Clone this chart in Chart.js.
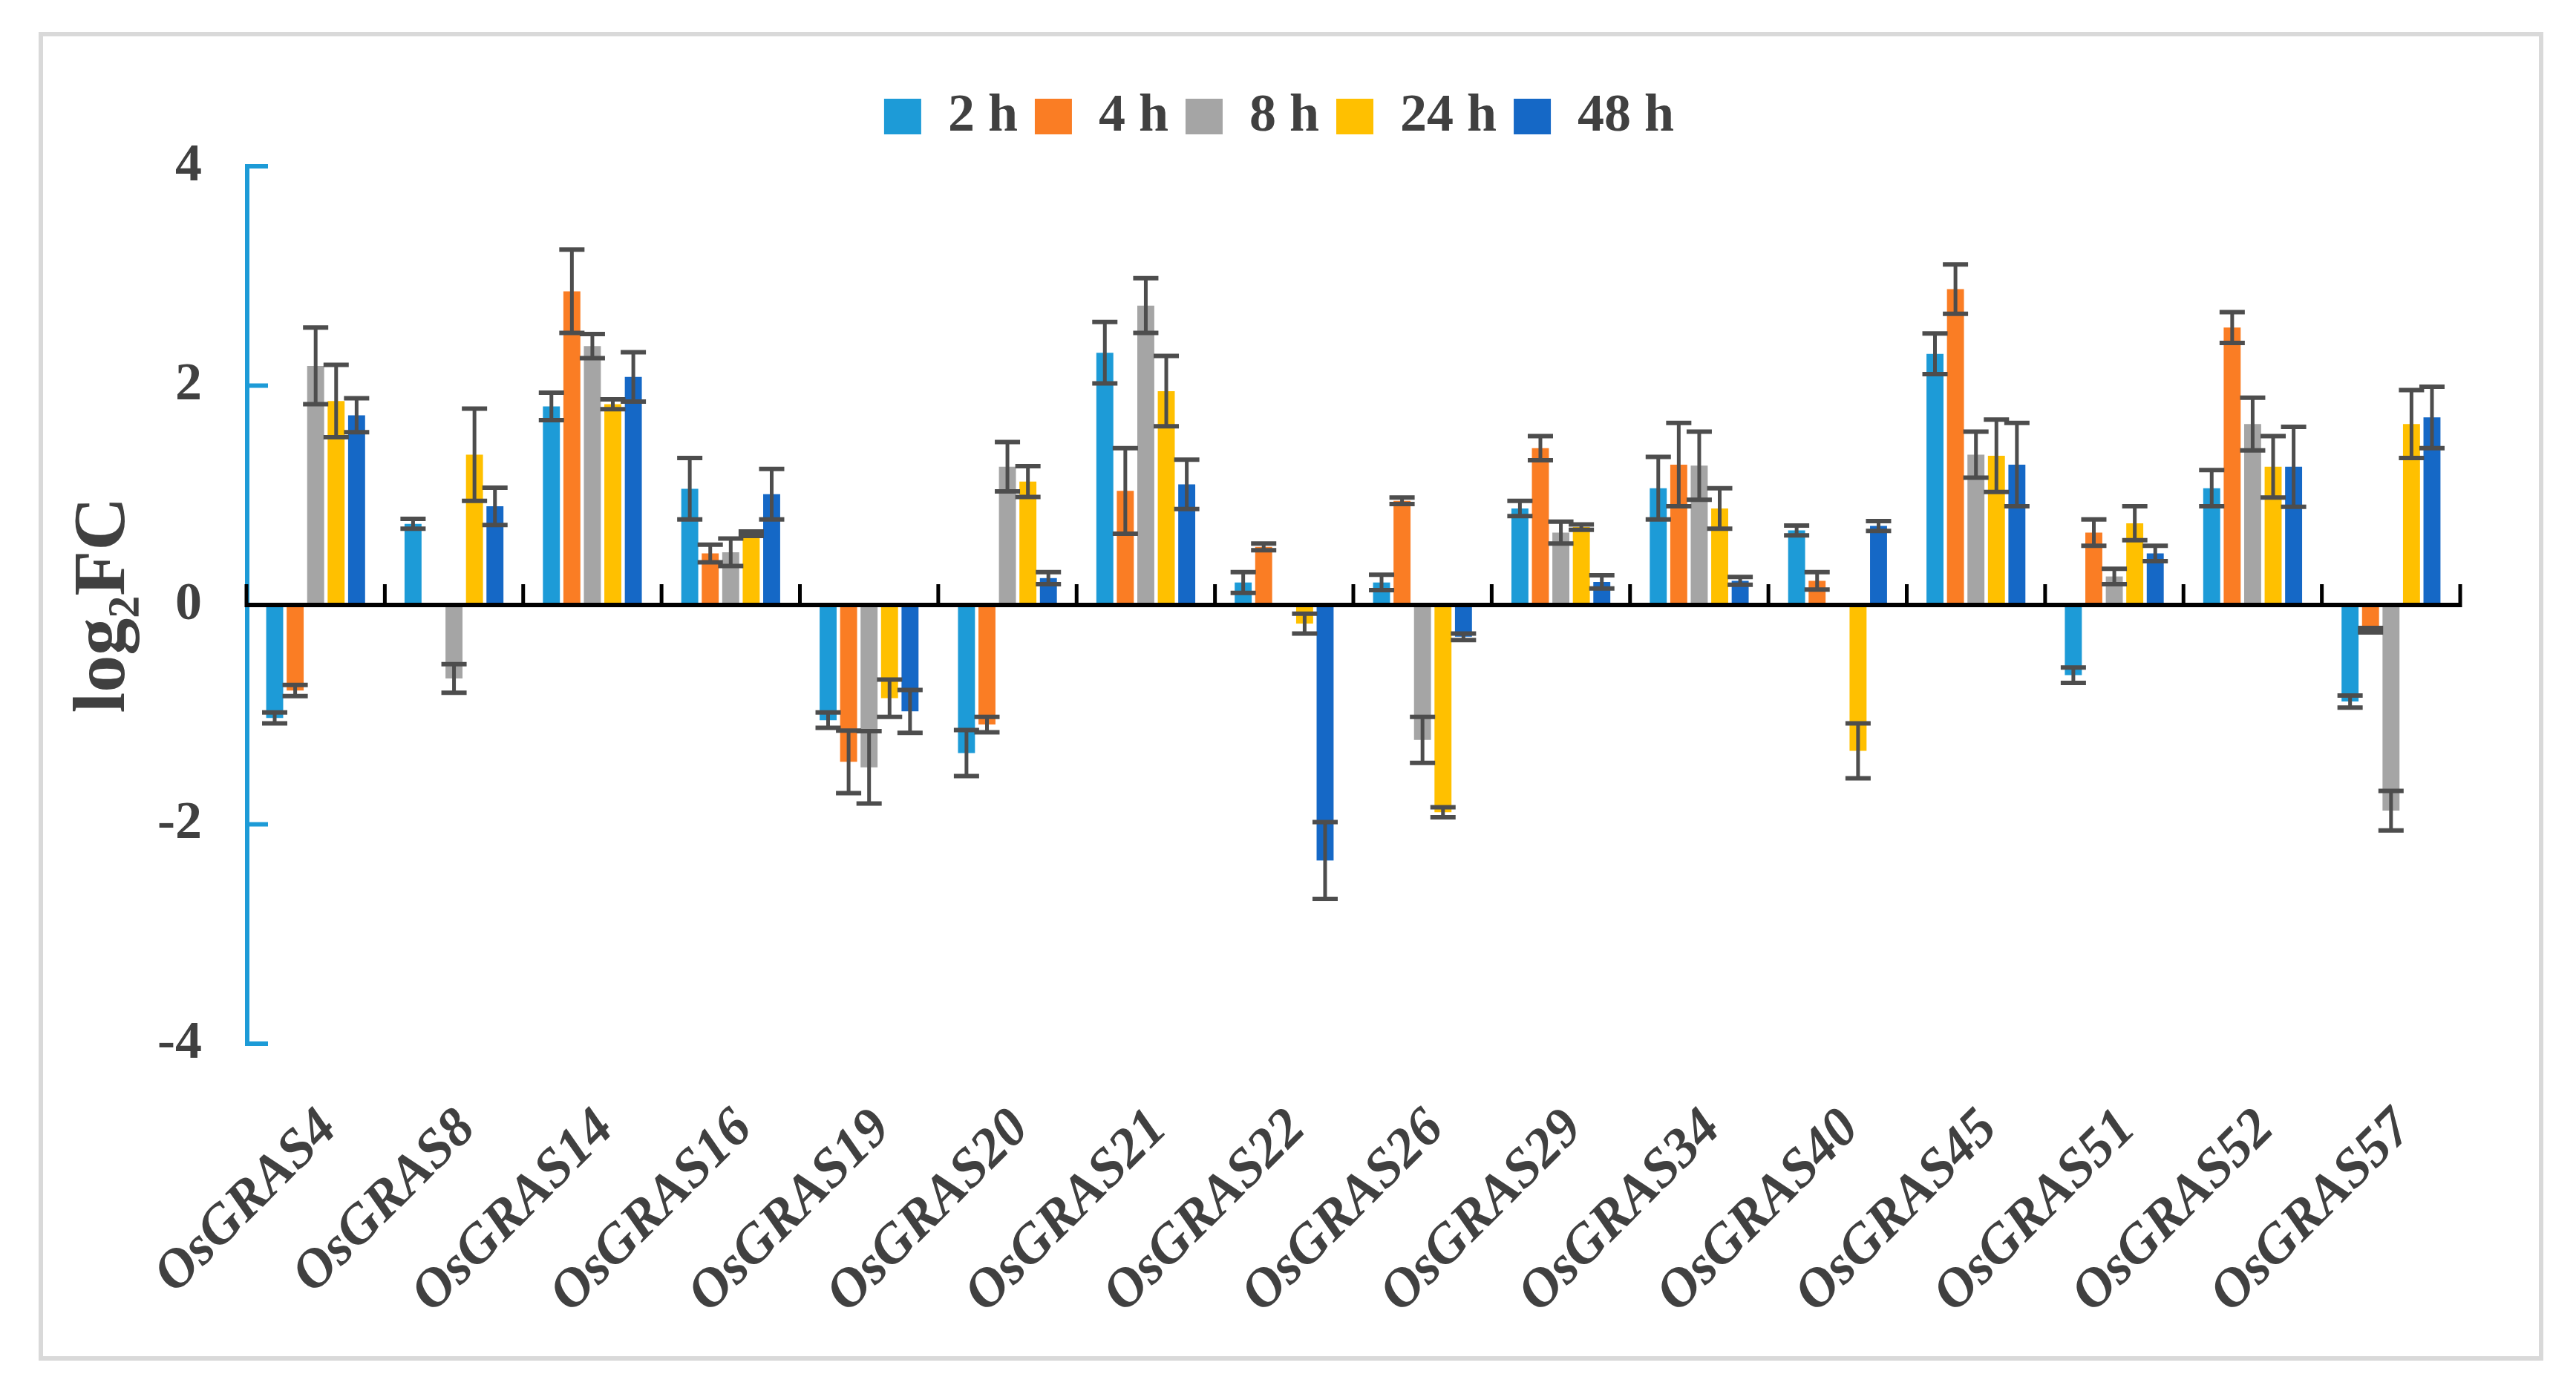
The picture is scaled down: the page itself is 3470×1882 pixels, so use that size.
<!DOCTYPE html>
<html>
<head>
<meta charset="utf-8">
<script src="https://cdn.jsdelivr.net/npm/chart.js@4.4.1/dist/chart.umd.min.js"></script>
<style>
  html, body { margin: 0; padding: 0; background: #ffffff; }
  #wrap { position: relative; width: 3470px; height: 1882px; overflow: hidden; }
  #frame { position: absolute; left: 52px; top: 43px; width: 3374px; height: 1790px;
           box-sizing: border-box; border: 6px solid #d9d9d9; }
  #c { position: absolute; left: 0; top: 0; }
</style>
</head>
<body>
<div id="wrap">
  <div id="frame"></div>
  <canvas id="c" width="3470" height="1882"></canvas>
</div>
<script>
// ---------------- DATA ----------------
const categories = ['OsGRAS4','OsGRAS8','OsGRAS14','OsGRAS16','OsGRAS19','OsGRAS20','OsGRAS21','OsGRAS22',
                    'OsGRAS26','OsGRAS29','OsGRAS34','OsGRAS40','OsGRAS45','OsGRAS51','OsGRAS52','OsGRAS57'];
const seriesNames = ['2 h', '4 h', '8 h', '24 h', '48 h'];

const val2h  = [-1.03, 0.74, 1.81, 1.06, -1.05, -1.35, 2.30, 0.205, 0.205, 0.88, 1.065, 0.68, 2.29, -0.64, 1.065, -0.88];
const err2h  = [0.05, 0.045, 0.125, 0.28, 0.07, 0.21, 0.28, 0.095, 0.07, 0.07, 0.285, 0.045, 0.185, 0.07, 0.165, 0.055];

const val4h  = [-0.78, 0, 2.86, 0.47, -1.43, -1.09, 1.04, 0.53, 0.95, 1.43, 1.28, 0.22, 2.88, 0.66, 2.53, -0.23];
const err4h  = [0.05, 0, 0.38, 0.08, 0.285, 0.07, 0.39, 0.03, 0.03, 0.11, 0.38, 0.08, 0.225, 0.12, 0.14, 0.02];

const val8h  = [2.18, -0.67, 2.36, 0.48, -1.48, 1.26, 2.73, 0, -1.23, 0.66, 1.27, 0, 1.37, 0.26, 1.65, -1.875];
const err8h  = [0.35, 0.13, 0.11, 0.125, 0.33, 0.225, 0.25, 0, 0.21, 0.10, 0.31, 0, 0.21, 0.07, 0.24, 0.18];

const val24h = [1.86, 1.37, 1.83, 0.65, -0.85, 1.125, 1.95, -0.17, -1.89, 0.71, 0.88, -1.33, 1.36, 0.745, 1.26, 1.65];
const err24h = [0.33, 0.42, 0.045, 0.02, 0.17, 0.14, 0.32, 0.09, 0.045, 0.025, 0.185, 0.25, 0.33, 0.155, 0.28, 0.31];

const val48h = [1.73, 0.90, 2.08, 1.01, -0.97, 0.245, 1.10, -2.33, -0.29, 0.21, 0.22, 0.72, 1.28, 0.47, 1.26, 1.71];
const err48h = [0.155, 0.17, 0.225, 0.23, 0.195, 0.055, 0.225, 0.35, 0.03, 0.06, 0.035, 0.045, 0.38, 0.07, 0.365, 0.28];

const yTickValues = [-4, -2, 0, 2, 4];
const yTitle = 'log\u2082FC';

// ---------------- STYLE ----------------
const colors = ['#1D9BD7', '#FA7D24', '#A5A5A5', '#FFC000', '#1568C6'];
const textColor = '#404040';
const serif = '"Liberation Serif", "Times New Roman", "DejaVu Serif", serif';

const seriesValues = [val2h, val4h, val8h, val24h, val48h];
const seriesErrors = [err2h, err4h, err8h, err24h, err48h];

const datasets = seriesNames.map((name, k) => ({
  label: name,
  data: seriesValues[k],
  errors: seriesErrors[k],
  backgroundColor: colors[k],
  borderWidth: 0,
  categoryPercentage: 0.74,
  barPercentage: 0.83
}));

// keep the legend at a fixed distance from the top edge
const legendPlace = {
  id: 'legendPlace',
  afterLayout(chart) {
    const lg = chart.legend;
    if (!lg) return;
    const h = lg.height;
    lg.top = 98;
    lg.bottom = 98 + h;
  }
};

// error bars + custom axes drawn from the chart's scales
const decorPlugin = {
  id: 'decor',
  afterDatasetsDraw(chart) {
    const { ctx, chartArea, scales } = chart;
    const x = scales.x, y = scales.y;
    ctx.save();
    // error bars
    ctx.strokeStyle = '#4d4d4d';
    ctx.lineCap = 'butt';
    chart.data.datasets.forEach((ds, di) => {
      const meta = chart.getDatasetMeta(di);
      meta.data.forEach((bar, i) => {
        const v = ds.data[i], e = ds.errors[i];
        if (v === 0 && e === 0) return;
        const yt = y.getPixelForValue(v + e);
        const yb = y.getPixelForValue(v - e);
        const cx = bar.x, hw = 17;
        ctx.lineWidth = 5;
        ctx.beginPath();
        ctx.moveTo(cx, yt); ctx.lineTo(cx, yb);
        ctx.stroke();
        ctx.lineWidth = 6;
        ctx.beginPath();
        ctx.moveTo(cx - hw, yt); ctx.lineTo(cx + hw, yt);
        ctx.moveTo(cx - hw, yb); ctx.lineTo(cx + hw, yb);
        ctx.stroke();
      });
    });
    // y axis (blue) with inward ticks
    const ax = chartArea.left + 1;
    const yTop = y.getPixelForValue(yTickValues[yTickValues.length - 1]);
    const yBot = y.getPixelForValue(yTickValues[0]);
    ctx.strokeStyle = colors[0];
    ctx.lineWidth = 6;
    ctx.beginPath();
    ctx.moveTo(ax, yTop - 3); ctx.lineTo(ax, yBot + 3);
    ctx.stroke();
    yTickValues.forEach(t => {
      const py = y.getPixelForValue(t);
      ctx.beginPath();
      ctx.moveTo(ax - 3, py); ctx.lineTo(ax + 28, py);
      ctx.stroke();
    });
    // x axis (black) at zero with upward boundary ticks
    const y0 = y.getPixelForValue(0);
    ctx.strokeStyle = '#000000';
    ctx.lineWidth = 6;
    ctx.beginPath();
    ctx.moveTo(chartArea.left, y0); ctx.lineTo(chartArea.right, y0);
    ctx.stroke();
    ctx.lineWidth = 5;
    for (let i = 0; i <= categories.length; i++) {
      const px = x.getPixelForValue(i - 0.5);
      ctx.beginPath();
      ctx.moveTo(px, y0 + 3); ctx.lineTo(px, y0 - 28);
      ctx.stroke();
    }
    ctx.restore();
  }
};

new Chart(document.getElementById('c'), {
  type: 'bar',
  data: { labels: categories, datasets },
  options: {
    responsive: false,
    animation: false,
    devicePixelRatio: 1,
    layout: { padding: { top: 98, left: 0, right: 24, bottom: 0 } },
    plugins: {
      tooltip: { enabled: false },
      legend: {
        position: 'top',
        align: 'center',
        labels: {
          boxWidth: 50,
          boxHeight: 48,
          padding: 23,
          color: textColor,
          font: { family: serif, size: 72, weight: 'bold' }
        }
      }
    },
    scales: {
      x: {
        grid: { display: false },
        border: { display: false },
        ticks: {
          autoSkip: false,
          maxRotation: 45,
          minRotation: 45,
          padding: 64,
          labelOffset: 18,
          color: textColor,
          font: { family: serif, size: 74, weight: 'bold', style: 'italic' }
        },
        afterFit(s) { s.height = 476; s.paddingRight = 156; }
      },
      y: {
        min: -4,
        max: 4,
        grid: { display: false },
        border: { display: false },
        afterBuildTicks(s) { s.ticks = yTickValues.map(v => ({ value: v })); },
        ticks: {
          padding: 52,
          color: textColor,
          font: { family: serif, size: 72, weight: 'bold' }
        },
        title: {
          display: true,
          text: yTitle,
          color: textColor,
          padding: { top: 81, bottom: 0 },
          font: { family: serif, size: 100, weight: 'bold' }
        },
        afterFit(s) { s.width = 332; s.paddingTop = 224; }
      }
    }
  },
  plugins: [legendPlace, decorPlugin]
});
</script>
</body>
</html>
